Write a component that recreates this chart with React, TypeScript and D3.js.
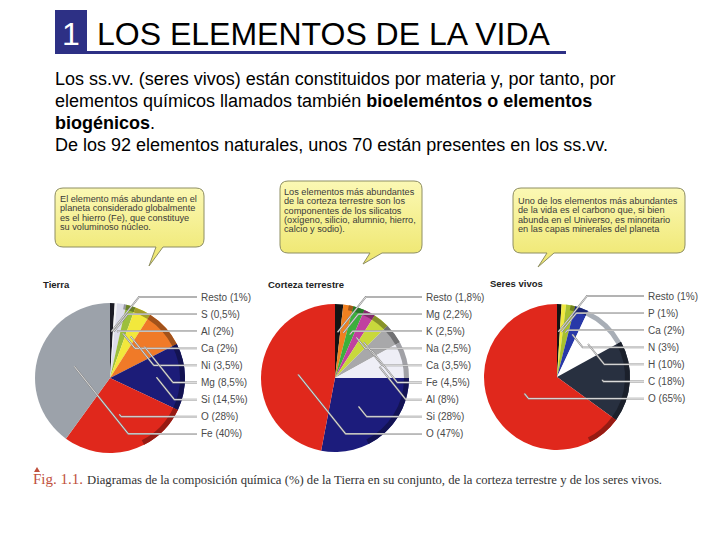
import React from "react";
import * as d3 from "d3";

// ---------- data ----------
const tierraElements = ["Resto", "S", "Al", "Ca", "Ni", "Mg", "Si", "O", "Fe"];
const tierraValues = [1, 0.5, 2, 2, 3.5, 8.5, 14.5, 28, 40];
const tierraColors = ["#1c1c26", "#f4f4f6", "#dcdcea", "#9cbf3c", "#f2e83c", "#f07a28", "#1c1c78", "#e0281c", "#9ca2aa"];

const cortezaElements = ["Resto", "Mg", "K", "Na", "Ca", "Fe", "Al", "Si", "O"];
const cortezaValues = [1.8, 2.2, 2.5, 2.5, 3.5, 4.5, 8, 28, 47];
const cortezaColors = ["#141414", "#f08020", "#3cb03c", "#c040a0", "#c8d83c", "#a8a8aa", "#eeeef6", "#1c1c7c", "#e0281c"];

const seresElements = ["Resto", "P", "Ca", "N", "H", "C", "O"];
const seresValues = [1, 1, 2, 3, 10, 18, 65];
const seresColors = ["#141414", "#f0e840", "#a8c030", "#2838a8", "#ffffff", "#283040", "#e0281c"];

const pieTitles = ["Tierra", "Corteza terrestre", "Seres vivos"];

const headingNumber = "1";
const headingText = "LOS ELEMENTOS DE LA VIDA";

const callout1 = ["El elemento más abundante en el", "planeta considerado globalmente", "es el hierro (Fe), que constituye", "su voluminoso núcleo."];
const callout2 = ["Los elementos más abundantes", "de la corteza terrestre son los", "componentes de los silicatos", "(oxígeno, silicio, alumnio, hierro,", "calcio y sodio)."];
const callout3 = ["Uno de los elementos más abundantes", "de la vida es el carbono que, si bien", "abunda en el Universo, es minoritario", "en las capas minerales del planeta"];

const captionLead = "Fig. 1.1.";
const captionText = "Diagramas de la composición química (%) de la Tierra en su conjunto, de la corteza terrestre y de los seres vivos.";

const fmt = (v: number) => String(v).replace(".", ",");

// ---------- components ----------
const SANS = "'Liberation Sans', Arial, Helvetica, sans-serif";
const SERIF = "'Liberation Serif', 'Times New Roman', serif";

function Pie({ cx, cy, r, title, elements, values, colors }: any) {
  const pie = d3.pie<number>().sort(null).value((d) => d).startAngle(0).endAngle(2 * Math.PI);
  const arcs = pie(values);
  const arc = d3.arc<any>().innerRadius(0).outerRadius(r);
  const rimArc = d3.arc<any>().innerRadius(r - 5).outerRadius(r);
  const rimStart = 0.06 * Math.PI;
  const rimEnd = 0.85 * Math.PI;
  const labelX = cx + 91;
  const labelY0 = cy - 81;
  const step = 17.1;
  return (
    <g>
      <text x={cx - 67} y={cy - 90} fontFamily={SANS} fontWeight="bold" fontSize={9.5} fill="#222">{title}</text>
      {arcs.map((a, i) => (
        <path key={"s" + i} d={arc(a) as string} transform={`translate(${cx},${cy})`} fill={colors[i]} />
      ))}
      {arcs.map((a, i) => {
        const s = Math.max(a.startAngle, rimStart);
        const e = Math.min(a.endAngle, rimEnd);
        if (e <= s) return null;
        const c = d3.color(colors[i]);
        const fill = colors[i] === "#ffffff" ? "#a8aeb6" : c ? c.darker(1.1).formatHex() : "#333";
        return (
          <path key={"r" + i} d={rimArc({ startAngle: s, endAngle: e }) as string} transform={`translate(${cx},${cy})`} fill={fill} />
        );
      })}
      {arcs.map((a, i) => {
        const mid = (a.startAngle + a.endAngle) / 2;
        const rr = r * (values[i] >= 20 ? 0.5 : 0.62);
        const ax = cx + Math.sin(mid) * rr;
        const ay = cy - Math.cos(mid) * rr;
        const ly = labelY0 + i * step;
        let kx = ax + Math.abs(ly - ay) * 0.8;
        if (kx > labelX - 10) kx = labelX - 10;
        const pts = `${labelX - 4},${ly} ${kx},${ly} ${ax},${ay}`;
        return (
          <g key={"l" + i}>
            <polyline points={pts} fill="none" stroke="#8a8a8a" strokeWidth={1.8} />
            <polyline points={pts} fill="none" stroke="#ffffff" strokeWidth={0.7} />
            <text x={labelX} y={ly} dy="0.35em" fontFamily={SANS} fontSize={10} fill="#4a4a4a">
              {`${elements[i]} (${fmt(values[i])}%)`}
            </text>
          </g>
        );
      })}
    </g>
  );
}

function Callout({ x, y, w, h, t1, t2, tipX, tipY, lines, tx, ty }: any) {
  const r = 8;
  const d = `M${x + r},${y} H${x + w - r} Q${x + w},${y} ${x + w},${y + r} V${y + h - r} Q${x + w},${y + h} ${x + w - r},${y + h} H${t2} L${tipX},${tipY} L${t1},${y + h} H${x + r} Q${x},${y + h} ${x},${y + h - r} V${y + r} Q${x},${y} ${x + r},${y} Z`;
  return (
    <g>
      <path d={d} fill="url(#yel)" stroke="#8e8e62" strokeWidth={1} />
      {lines.map((l: string, i: number) => (
        <text key={i} x={tx} y={ty + i * 9.3} fontFamily={SANS} fontSize={9.2} fill="#3a3a3a">{l}</text>
      ))}
    </g>
  );
}

export default function App() {
  return (
    <svg width={720} height={540} style={{ position: "absolute", left: 0, top: 0, background: "#fff" }}>
      <defs>
        <linearGradient id="yel" x1="0" y1="0" x2="0" y2="1">
          <stop offset="0" stopColor="#fbf8b4" />
          <stop offset="1" stopColor="#eee66c" />
        </linearGradient>
      </defs>
      <rect width={720} height={540} fill="#fff" />
      {/* heading */}
      <rect x={55} y={10} width={32} height={44} fill="#2d3085" />
      <rect x={87} y={51} width={479} height={3} fill="#2d3085" />
      <text x={71} y={45} textAnchor="middle" fontFamily={SANS} fontSize={32} fill="#fff">{headingNumber}</text>
      <text x={97} y={45} fontFamily={SANS} fontSize={32} fill="#000">{headingText}</text>
      {/* paragraph */}
      <g fontFamily={SANS} fontSize={18} fill="#000">
        <text x={55} y={85}>Los ss.vv. (seres vivos) están constituidos por materia y, por tanto, por</text>
        <text x={55} y={107}>elementos químicos llamados también <tspan fontWeight="bold">bioeleméntos o elementos</tspan></text>
        <text x={55} y={129}><tspan fontWeight="bold">biogénicos</tspan>.</text>
        <text x={55} y={151}>De los 92 elementos naturales, unos 70 están presentes en los ss.vv.</text>
      </g>
      {/* callouts */}
      <Callout x={55} y={188} w={149} h={59} t1={156} t2={163} tipX={149} tipY={266} lines={callout1} tx={60} ty={202} />
      <Callout x={280} y={181} w={142} h={72} t1={370} t2={382} tipX={363} tipY={264} lines={callout2} tx={284} ty={195} />
      <Callout x={513} y={188} w={172} h={65} t1={547} t2={554} tipX={538} tipY={267} lines={callout3} tx={518} ty={204} />
      {/* pies */}
      <Pie cx={110} cy={378} r={75} title={pieTitles[0]} elements={tierraElements} values={tierraValues} colors={tierraColors} />
      <Pie cx={335} cy={378} r={74} title={pieTitles[1]} elements={cortezaElements} values={cortezaValues} colors={cortezaColors} />
      <Pie cx={557} cy={377} r={73} title={pieTitles[2]} elements={seresElements} values={seresValues} colors={seresColors} />
      {/* caption */}
      <path d="M34,472 L37,467 L40,472 Z" fill="#c0503c" />
      <text x={33} y={484} fontFamily={SERIF} fill="#333">
        <tspan fontSize={15} fill="#c0503c">{captionLead}</tspan>
        <tspan fontSize={12.7} dx={4}>{captionText}</tspan>
      </text>
    </svg>
  );
}
